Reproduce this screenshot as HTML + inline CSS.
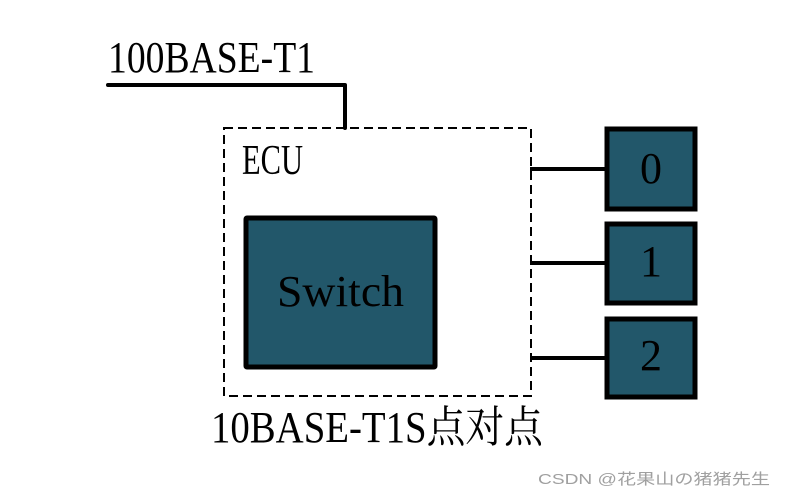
<!DOCTYPE html>
<html><head><meta charset="utf-8"><style>
html,body{margin:0;padding:0;background:#fff;}
svg{display:block;}
text{font-family:"Liberation Serif","Noto Serif CJK SC",serif;fill:#000;}
</style></head><body>
<svg width="785" height="498" viewBox="0 0 785 498" xmlns="http://www.w3.org/2000/svg">
<rect width="785" height="498" fill="#fff"/>
<text x="108" y="72" font-size="44" textLength="207" lengthAdjust="spacingAndGlyphs">100BASE-T1</text>
<polyline points="108,85 345,85 345,128" fill="none" stroke="#000" stroke-width="4" stroke-linejoin="round" stroke-linecap="round"/>
<rect x="224" y="128" width="307" height="268" fill="none" stroke="#000" stroke-width="2" stroke-dasharray="9,5"/>
<text x="242" y="174" font-size="42" textLength="61" lengthAdjust="spacingAndGlyphs">ECU</text>
<rect x="246" y="218" width="189" height="149" fill="#22576a" stroke="#000" stroke-width="5" rx="1"/>
<text x="277" y="306" font-size="44" textLength="127" lengthAdjust="spacingAndGlyphs">Switch</text>
<g stroke="#000" stroke-width="4">
<line x1="530" y1="169" x2="606" y2="169"/>
<line x1="530" y1="263" x2="606" y2="263"/>
<line x1="530" y1="358" x2="606" y2="358"/>
</g>
<g fill="#22576a" stroke="#000" stroke-width="5">
<rect x="607" y="129" width="88" height="80"/>
<rect x="607" y="224" width="88" height="79"/>
<rect x="607" y="319" width="88" height="78"/>
</g>
<text x="651" y="183" font-size="44" text-anchor="middle">0</text>
<text x="651" y="276" font-size="44" text-anchor="middle">1</text>
<text x="651" y="370" font-size="44" text-anchor="middle">2</text>
<text x="211" y="442" font-size="44" textLength="332" lengthAdjust="spacingAndGlyphs">10BASE-T1S点对点</text>
<text x="538" y="484" font-size="15" fill="#9a9a9a" style="font-family:'Liberation Sans','Noto Sans CJK SC',sans-serif;fill:#a0a0a0" textLength="232" lengthAdjust="spacingAndGlyphs">CSDN @花果山の猪猪先生</text>
</svg>
</body></html>
